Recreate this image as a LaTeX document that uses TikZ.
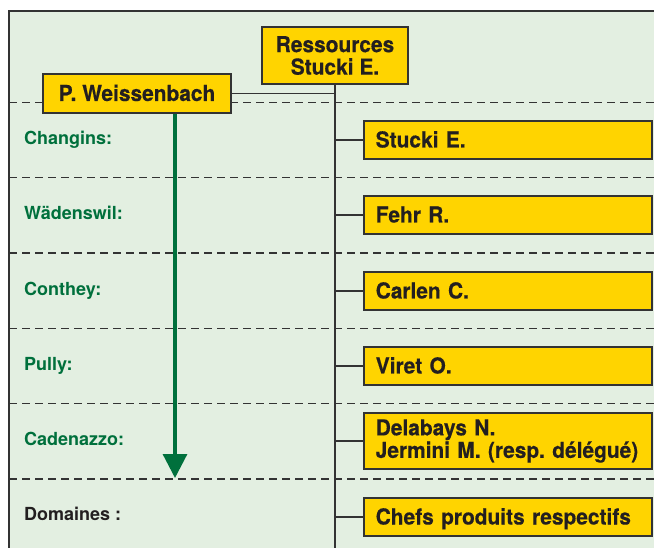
\documentclass[tikz,border=0pt]{standalone}
\usepackage{fontspec}
\setmainfont{TeX Gyre Heros}
\newfontfamily\boxfont[FakeStretch=0.95,FakeBold=0.4]{TeX Gyre Heros Bold}
\usetikzlibrary{arrows.meta}
\definecolor{bgg}{HTML}{E3EFE1}
\definecolor{ylw}{HTML}{FFD400}
\definecolor{grn}{HTML}{00703C}
\definecolor{ink}{HTML}{231F20}
\definecolor{framec}{HTML}{333333}
\begin{document}
\begin{tikzpicture}[x=1pt,y=-1pt,
  ybox/.style={draw=framec, line width=1.5pt, fill=ylw, text=ink, font=\boxfont\fontsize{22}{22.5}\selectfont},
  rbox/.style={ybox, anchor=west, minimum height=38pt, text width=264pt, inner xsep=12pt, inner ysep=0pt, align=left},
  onebox/.style={rbox, text height=16pt, text depth=1pt},
  lbl/.style={anchor=base west, font=\fontsize{18}{20}\selectfont\bfseries, text=grn, inner sep=0pt},
  sepline/.style={draw=framec, line width=1.4pt, dash pattern=on 8pt off 5pt},
  conn/.style={draw=framec, line width=1.5pt},
  framel/.style={draw=framec, line width=1.5pt}]
\useasboundingbox (0,0) rectangle (654,548);
\fill[bgg] (9,11) rectangle (654,548);
\draw[framel] (9,548) -- (9,11) -- (654,11);

% dashed separators
\foreach \yy in {102.5,177.8,253,328.5,403.7,479}
  \draw[sepline] (9,\yy) -- (654,\yy);

% nodes
\node[ybox, minimum width=146pt, minimum height=57pt, inner sep=0pt, align=center] (R) at (335,55.5) {Ressources\\Stucki E.};
\node[ybox, minimum width=188pt, minimum height=39pt, inner sep=0pt, text height=16pt, text depth=1pt] (W) at (137,93.5) {P. Weissenbach};

\coordinate (vb) at (335,548);
\coordinate (tip) at (175,478);

\node[onebox] (s1) at (363,140) {Stucki E.};
\node[onebox] (s2) at (363,215) {Fehr R.};
\node[onebox] (s3) at (363,291) {Carlen C.};
\node[onebox] (s4) at (363,366) {Viret O.};
\node[rbox, minimum height=56pt] (s5) at (363,441) {Delabays N.\\Jermini M. (resp.\ délégué)};
\node[onebox] (s6) at (363,517) {Chefs produits respectifs};

% connectors
\draw[conn] (R.south) -- (vb);
\draw[conn] (W.east) -- (W.east -| vb);
\foreach \n in {s1,s2,s3,s4,s5,s6}
  \draw[conn] (\n.west -| vb) -- (\n.west);

% arrow
\draw[grn, line width=3.2pt, -{Triangle[width=24pt,length=24pt]}] (W.south -| tip) -- (tip);

% labels
\node[lbl] (l1) at (24,144.5) {Changins:};
\node[lbl] (l2) at (24,219.5) {Wädenswil:};
\node[lbl] (l3) at (24,296) {Conthey:};
\node[lbl] (l4) at (24,370.5) {Pully:};
\node[lbl] (l5) at (24,446) {Cadenazzo:};
\node[lbl, text=ink] (l6) at (24,520.5) {Domaines :};
\end{tikzpicture}
\end{document}
